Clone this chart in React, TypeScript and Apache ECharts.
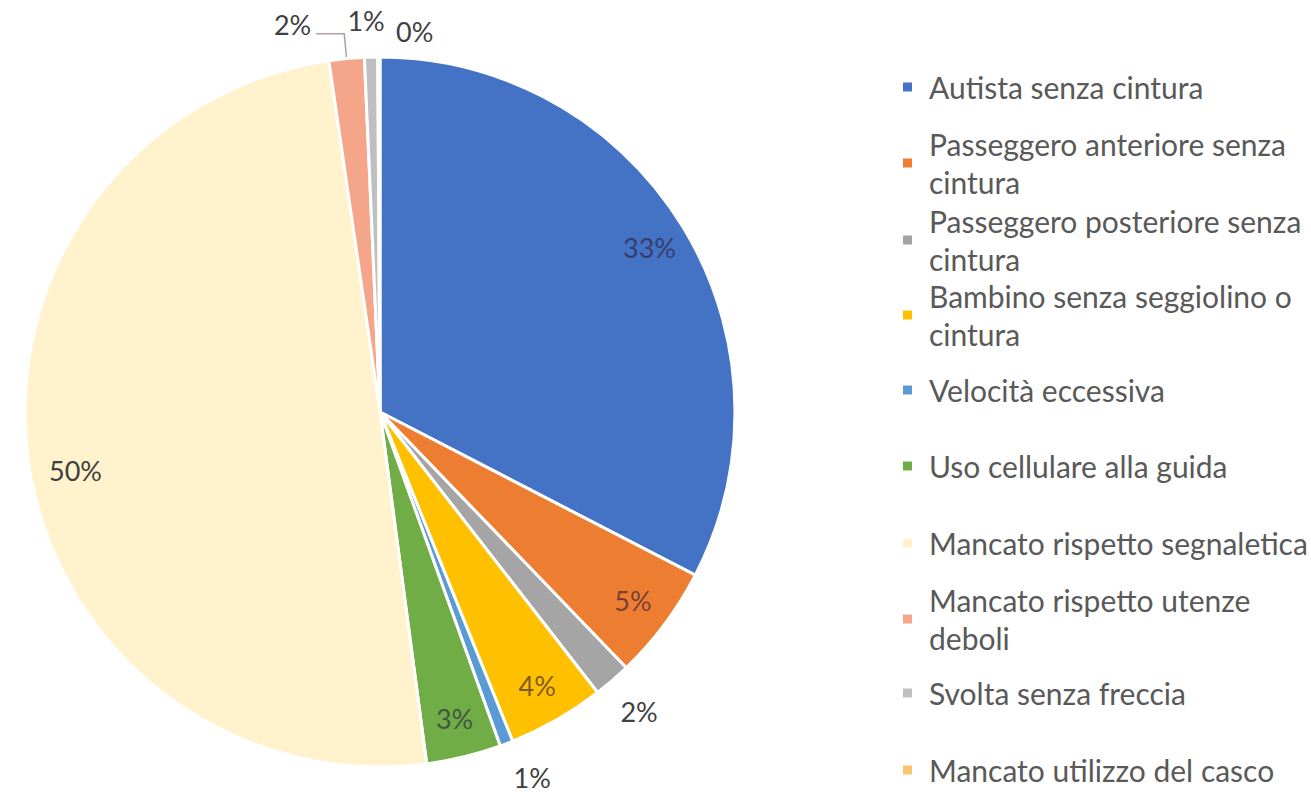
import React, { useEffect, useRef } from 'react';
import * as echarts from 'echarts';

const categories = [
  'Autista senza cintura',
  'Passeggero anteriore senza cintura',
  'Passeggero posteriore senza cintura',
  'Bambino senza seggiolino o cintura',
  'Velocità eccessiva',
  'Uso cellulare alla guida',
  'Mancato rispetto segnaletica',
  'Mancato rispetto utenze deboli',
  'Svolta senza freccia',
  'Mancato utilizzo del casco',
];
const values = [32.6, 5.2, 1.7, 4.4, 0.6, 3.4, 49.8, 1.6, 0.6, 0.1];
const legendLabels = [
  'Autista senza cintura',
  'Passeggero anteriore senza\ncintura',
  'Passeggero posteriore senza\ncintura',
  'Bambino senza seggiolino o\ncintura',
  'Velocità eccessiva',
  'Uso cellulare alla guida',
  'Mancato rispetto segnaletica',
  'Mancato rispetto utenze\ndeboli',
  'Svolta senza freccia',
  'Mancato utilizzo del casco',
];
const colors = [
  '#4472C4', '#ED7D31', '#A5A5A5', '#FFC000', '#5B9BD5',
  '#70AD47', '#FFF2CC', '#F4A58A', '#BFBFBF', '#F8C471',
];
const insideLabelIdx = [0, 1, 3, 5, 6];
const outsideLabelIdx = [2, 4, 8, 9];
const leaderLabelIdx = [7];

const FONT = 'Lato, "Open Sans", sans-serif';
const CX = 380;
const CY = 412;
const R = 355;
const LINE_H = 38;
const legendFirstLineY = [87, 163, 240, 315, 390, 466, 543, 619, 693, 770];

const pctFmt = (p: any) => Math.round(p.percent) + '%';

export default function App() {
  const ref = useRef<HTMLDivElement>(null);
  useEffect(() => {
    if (!ref.current) return;
    const chart = echarts.init(ref.current, null, { renderer: 'svg' });

    const legends = categories.map((name, i) => {
      const twoLines = legendLabels[i].includes('\n');
      return {
        orient: 'vertical',
        left: 901,
        top: legendFirstLineY[i] - LINE_H / 2 - (twoLines ? LINE_H : 0),
        padding: 0,
        itemWidth: 11,
        itemHeight: 11,
        icon: 'rect',
        selectedMode: false,
        data: [name],
        formatter: () => legendLabels[i],
        textStyle: {
          fontFamily: FONT,
          fontSize: 30,
          color: '#595959',
          lineHeight: LINE_H,
          padding: [twoLines ? LINE_H : 0, 0, 0, 11],
        },
      };
    });

    const mainData = categories.map((name, i) => {
      const leader = leaderLabelIdx.includes(i);
      return {
        name,
        value: values[i],
        itemStyle: { color: colors[i] },
        label: leader
          ? {
              show: true,
              position: 'outside',
              formatter: pctFmt,
              color: '#404040',
              fontFamily: FONT,
              fontSize: 27,
              distanceToLabelLine: 5,
            }
          : { show: false },
        labelLine: leader
          ? { show: true, length: 25, length2: 28, lineStyle: { color: '#b0a0a0', width: 1.5 } }
          : { show: false },
      };
    });

    const ringData = (idx: number[], color: (i: number) => string) =>
      categories.map((name, i) => ({
        name,
        value: values[i],
        itemStyle: { color: 'rgba(0,0,0,0)' },
        label: idx.includes(i)
          ? { show: true, position: 'inside', formatter: pctFmt, color: color(i), fontFamily: FONT, fontSize: 27 }
          : { show: false },
      }));

    chart.setOption({
      animation: false,
      backgroundColor: '#ffffff',
      legend: legends,
      series: [
        {
          type: 'pie',
          center: [CX, CY],
          radius: [0, R],
          startAngle: 90,
          clockwise: true,
          avoidLabelOverlap: false,
          silent: true,
          itemStyle: { borderColor: '#ffffff', borderWidth: 3 },
          labelLayout: (params: any) => (params.dataIndex === 7 ? { dy: -9 } : {}),
          data: mainData,
        },
        {
          type: 'pie',
          center: [CX, CY],
          radius: [270, R],
          startAngle: 90,
          clockwise: true,
          avoidLabelOverlap: false,
          silent: true,
          labelLine: { show: false },
          labelLayout: (params: any) => (params.dataIndex === 6 ? { dx: 8, dy: 15 } : {}),
          data: ringData(insideLabelIdx, (i) => (i === 6 ? '#404040' : 'rgba(45,30,60,0.65)')),
        },
        {
          type: 'pie',
          center: [CX, CY],
          radius: [362, 424],
          startAngle: 90,
          clockwise: true,
          avoidLabelOverlap: false,
          silent: true,
          labelLine: { show: false },
          labelLayout: (params: any) =>
            params.dataIndex === 9
              ? { dx: 36, dy: 15 }
              : params.dataIndex === 4
              ? { dx: 11, dy: -4 }
              : params.dataIndex === 8
              ? { dx: -4, dy: 4 }
              : {},
          data: ringData(outsideLabelIdx, () => '#404040'),
        },
      ],
    });
    return () => chart.dispose();
  }, []);

  return (
    <div
      ref={ref}
      style={{ position: 'fixed', left: 0, top: 0, width: 1311, height: 793, background: '#fff' }}
    />
  );
}
